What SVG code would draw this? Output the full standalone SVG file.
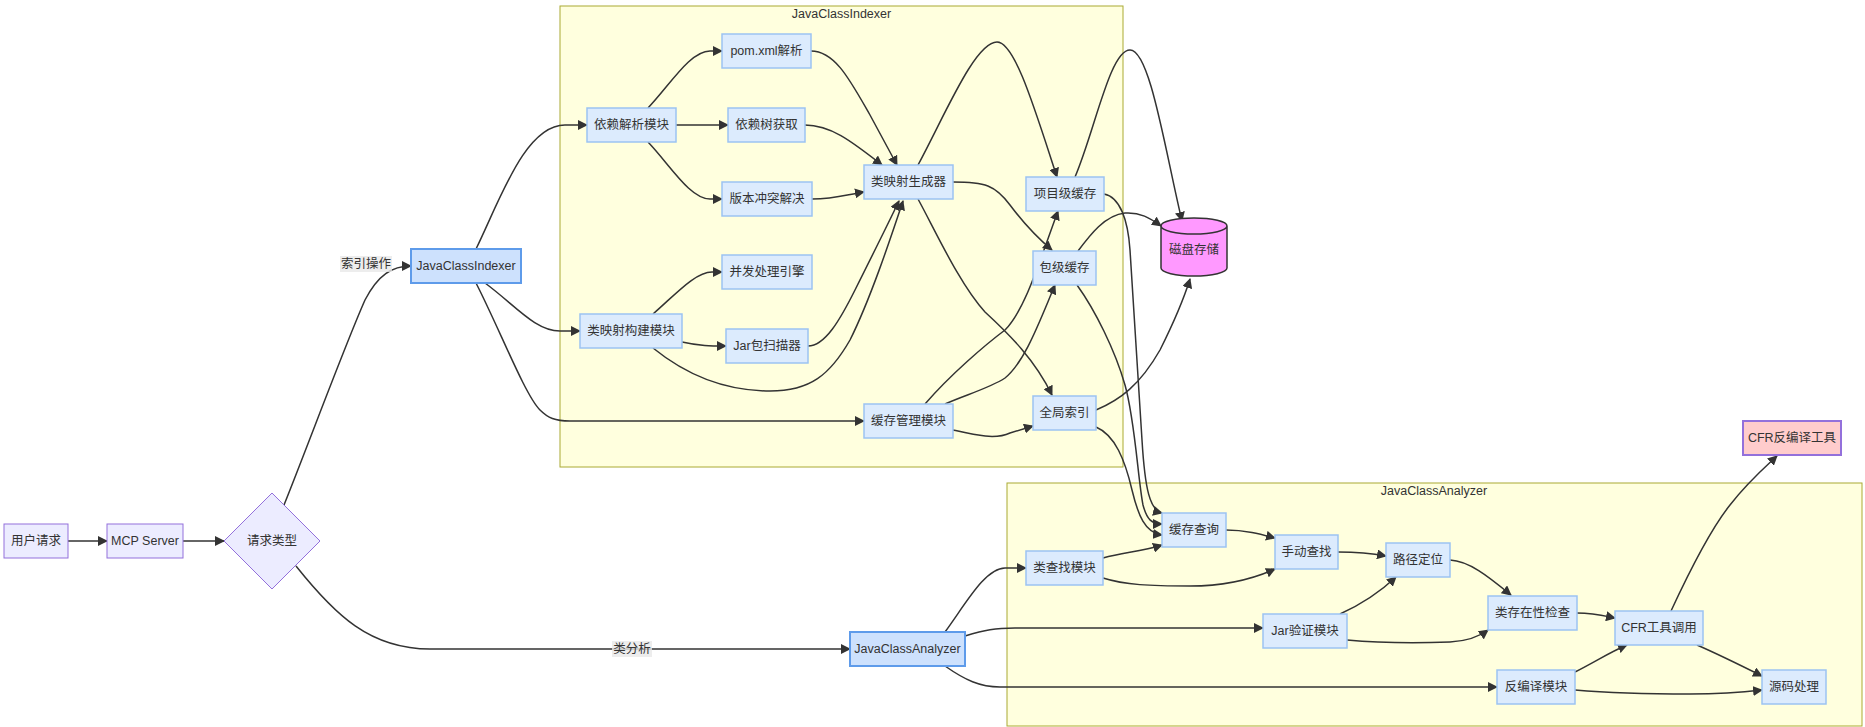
<svg xmlns="http://www.w3.org/2000/svg" width="1865" height="727" viewBox="0 0 1865 727">
<defs>
<style>
text{font-family:"Liberation Sans","Noto Sans CJK SC",sans-serif;font-size:12.5px;fill:#333;text-anchor:middle;dominant-baseline:central}
.def{fill:#ECECFF;stroke:#9370DB;stroke-width:1}
.sub{fill:#dcebfd;stroke:#9cc3f2;stroke-width:1.5}
.main{fill:#cde1fd;stroke:#5e9bea;stroke-width:2}
.cfr{fill:#ffcccc;stroke:#9370DB;stroke-width:2}
.disk{fill:#ff99ff;stroke:#333;stroke-width:1.5}
.cluster{fill:#ffffde;stroke:#aaaa33;stroke-width:1}
.e{fill:none;stroke:#333;stroke-width:1.5;marker-end:url(#arr)}
.lbl{fill:#e8e8e8;opacity:0.8}
</style>
<marker id="arr" viewBox="0 0 10 10" refX="9" refY="5" markerWidth="10" markerHeight="10" markerUnits="userSpaceOnUse" orient="auto"><path d="M0,0 L10,5 L0,10 z" fill="#333"/></marker>
</defs>
<rect width="1865" height="727" fill="#ffffff"/>
<g id="cluster-indexer">
<rect class="cluster" x="560" y="6" width="563" height="461"/>
<text x="841.5" y="14">JavaClassIndexer</text>
</g>
<g id="cluster-analyzer">
<rect class="cluster" x="1007" y="483" width="855" height="243"/>
<text x="1434" y="491">JavaClassAnalyzer</text>
</g>
<g id="edges">
<path class="e" d="M68,541 L107,541"/>
<path class="e" d="M183,541 L224,541"/>
<path class="e" d="M284,505 C310,440 345,345 365,300 C378,275 392,266 411,266"/>
<path class="e" d="M296,566 C335,615 370,649 430,649 L850,649"/>
<path class="e" d="M476,249 C500,200 525,125 565,125 L587,125"/>
<path class="e" d="M485,283 C515,305 535,331 560,331 L580,331"/>
<path class="e" d="M476,283 C500,330 525,395 540,410 C548,418 555,421 570,421 L864,421"/>
<path class="e" d="M648,108 C670,85 690,51 710,51 L722,51"/>
<path class="e" d="M676,125 L728,125"/>
<path class="e" d="M648,142 C670,165 690,199 710,199 L722,199"/>
<path class="e" d="M811,51 C835,51 850,80 870,115 L897,165"/>
<path class="e" d="M805,125 C830,125 850,140 882,165"/>
<path class="e" d="M812,199 C835,199 845,195 864,192"/>
<path class="e" d="M653,314 C675,295 695,272 712,272 L722,272"/>
<path class="e" d="M682,342 C700,346 710,346 726,346"/>
<path class="e" d="M808,346 C825,346 840,320 855,290 C870,260 885,230 899,201"/>
<path class="e" d="M653,348 C690,378 730,391 770,391 C810,391 830,375 850,340 C870,300 890,240 903,201"/>
<path class="e" d="M918,165 C945,115 975,42 997,42 C1015,42 1035,110 1057,177"/>
<path class="e" d="M953,182 C985,182 995,185 1010,205 C1025,225 1040,240 1052,250"/>
<path class="e" d="M918,199 C935,230 960,285 985,312 C1010,335 1035,360 1052,395"/>
<path class="e" d="M925,404 C950,375 985,345 1005,330 C1025,310 1040,260 1058,211"/>
<path class="e" d="M945,404 C965,395 990,388 1005,378 C1025,362 1040,320 1055,285"/>
<path class="e" d="M953,430 C975,435 995,440 1010,433 L1033,426"/>
<path class="e" d="M1075,177 C1095,130 1110,50 1130,50 C1150,50 1165,150 1182,221"/>
<path class="e" d="M1078,251 C1090,235 1105,215 1125,213 C1140,212 1150,218 1161,226"/>
<path class="e" d="M1096,410 C1120,400 1140,385 1160,350 C1175,320 1185,295 1190,279"/>
<path class="e" d="M1104,194 C1120,197 1128,220 1130,250 L1142,440 C1145,490 1150,510 1162,513"/>
<path class="e" d="M1077,285 C1095,310 1115,350 1125,385 C1135,420 1138,480 1143,505 C1147,520 1152,524 1162,524"/>
<path class="e" d="M1096,427 C1115,435 1125,460 1132,490 C1138,515 1145,533 1162,535"/>
<path class="e" d="M945,632 C965,605 985,568 1005,568 L1026,568"/>
<path class="e" d="M965,636 C985,630 995,628 1015,628 L1263,628"/>
<path class="e" d="M945,666 C965,680 980,687 1000,687 L1497,687"/>
<path class="e" d="M1103,558 C1125,552 1140,552 1162,545"/>
<path class="e" d="M1103,578 C1125,585 1150,586 1190,586 C1230,586 1255,578 1275,569"/>
<path class="e" d="M1226,530 C1245,530 1260,534 1275,538"/>
<path class="e" d="M1338,552 C1355,552 1370,553 1386,556"/>
<path class="e" d="M1340,614 C1360,605 1380,592 1396,577"/>
<path class="e" d="M1347,640 C1380,643 1420,643 1450,642 C1470,641 1480,636 1488,630"/>
<path class="e" d="M1450,560 C1470,561 1490,578 1511,595"/>
<path class="e" d="M1577,613 C1595,613 1605,616 1615,618"/>
<path class="e" d="M1575,672 C1595,662 1610,652 1627,645"/>
<path class="e" d="M1575,690 C1610,693 1650,694 1690,694 C1725,694 1745,692 1762,690"/>
<path class="e" d="M1697,645 C1720,655 1740,665 1762,676"/>
<path class="e" d="M1671,611 C1690,570 1710,530 1730,505 C1748,482 1762,470 1777,456"/>
<rect class="lbl" x="340" y="256" width="52" height="16"/>
<text x="366" y="264">索引操作</text>
<rect class="lbl" x="612" y="641" width="40" height="16"/>
<text x="632" y="649">类分析</text>
</g>
<g id="n-user"><rect class="def" x="4" y="524" width="64" height="34"/><text x="36" y="541">用户请求</text></g>
<g id="n-mcp"><rect class="def" x="107" y="524" width="76" height="34"/><text x="145" y="541">MCP Server</text></g>
<g id="n-type"><polygon class="def" points="272,493 320,541 272,589 224,541"/><text x="272" y="541">请求类型</text></g>
<g id="n-indexer"><rect class="main" x="411" y="249" width="110" height="34"/><text x="466" y="266">JavaClassIndexer</text></g>
<g id="n-analyzer"><rect class="main" x="850" y="632" width="115" height="34"/><text x="907.5" y="649">JavaClassAnalyzer</text></g>
<g id="n-dep"><rect class="sub" x="587" y="108" width="89" height="34"/><text x="631.5" y="125">依赖解析模块</text></g>
<g id="n-pom"><rect class="sub" x="722" y="34" width="89" height="34"/><text x="766.5" y="51">pom.xml解析</text></g>
<g id="n-tree"><rect class="sub" x="728" y="108" width="77" height="34"/><text x="766.5" y="125">依赖树获取</text></g>
<g id="n-conflict"><rect class="sub" x="722" y="182" width="90" height="34"/><text x="767" y="199">版本冲突解决</text></g>
<g id="n-build"><rect class="sub" x="580" y="314" width="102" height="34"/><text x="631" y="331">类映射构建模块</text></g>
<g id="n-concur"><rect class="sub" x="722" y="255" width="90" height="34"/><text x="767" y="272">并发处理引擎</text></g>
<g id="n-jarscan"><rect class="sub" x="726" y="329" width="82" height="34"/><text x="767" y="346">Jar包扫描器</text></g>
<g id="n-gen"><rect class="sub" x="864" y="165" width="89" height="34"/><text x="908.5" y="182">类映射生成器</text></g>
<g id="n-cachemgr"><rect class="sub" x="864" y="404" width="89" height="34"/><text x="908.5" y="421">缓存管理模块</text></g>
<g id="n-projcache"><rect class="sub" x="1026" y="177" width="78" height="34"/><text x="1065" y="194">项目级缓存</text></g>
<g id="n-pkgcache"><rect class="sub" x="1033" y="251" width="63" height="34"/><text x="1064.5" y="268">包级缓存</text></g>
<g id="n-global"><rect class="sub" x="1033" y="396" width="63" height="34"/><text x="1064.5" y="413">全局索引</text></g>
<g id="n-disk"><path class="disk" d="M1161,226 a33,8 0 0,0 66,0 a33,8 0 0,0 -66,0 l0,42 a33,8 0 0,0 66,0 l0,-42"/><text x="1194" y="250">磁盘存储</text></g>
<g id="n-cfrtool"><rect class="cfr" x="1743" y="421" width="98" height="34"/><text x="1792" y="438">CFR反编译工具</text></g>
<g id="n-lookup"><rect class="sub" x="1026" y="551" width="77" height="34"/><text x="1064.5" y="568">类查找模块</text></g>
<g id="n-cacheq"><rect class="sub" x="1162" y="513" width="64" height="34"/><text x="1194" y="530">缓存查询</text></g>
<g id="n-manual"><rect class="sub" x="1275" y="535" width="63" height="34"/><text x="1306.5" y="552">手动查找</text></g>
<g id="n-path"><rect class="sub" x="1386" y="543" width="64" height="34"/><text x="1418" y="560">路径定位</text></g>
<g id="n-jarver"><rect class="sub" x="1263" y="614" width="84" height="34"/><text x="1305" y="631">Jar验证模块</text></g>
<g id="n-exist"><rect class="sub" x="1488" y="596" width="89" height="34"/><text x="1532.5" y="613">类存在性检查</text></g>
<g id="n-cfrcall"><rect class="sub" x="1615" y="611" width="88" height="34"/><text x="1659" y="628">CFR工具调用</text></g>
<g id="n-decomp"><rect class="sub" x="1497" y="670" width="78" height="34"/><text x="1536" y="687">反编译模块</text></g>
<g id="n-src"><rect class="sub" x="1762" y="670" width="64" height="34"/><text x="1794" y="687">源码处理</text></g>
</svg>
